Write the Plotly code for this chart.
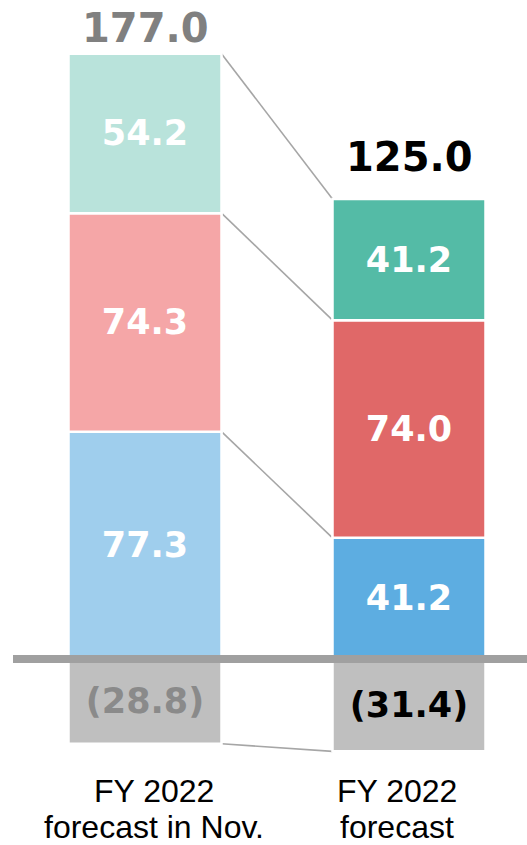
import plotly.graph_objects as go

# ---- data ----
categories = ["FY 2022<br>forecast in Nov.", "FY 2022<br>forecast"]
seg_negative = [-28.8, -31.4]
seg_blue = [77.3, 41.2]
seg_red = [74.3, 74.0]
seg_teal = [54.2, 41.2]
totals = [177.0, 125.0]

# ---- styles ----
W, H = 527, 845
zero_px = 659.0
px_per_unit = 2.941
centers_px = [145.0, 409.0]
bar_px = 153.0
spacing = centers_px[1] - centers_px[0]
bar_w = bar_px / spacing
xmin = -centers_px[0] / spacing
xmax = (W - centers_px[0]) / spacing
ymax = zero_px / px_per_unit
ymin = -(H - zero_px) / px_per_unit

xs = [0, 1]
num_font = "DejaVu Sans"
lbl_font = "Liberation Sans, Arial"


def fmt(v):
    return f"({abs(v):.1f})" if v < 0 else f"{v:.1f}"


fig = go.Figure()

series = [
    (seg_negative, ["#bfbfbf", "#bfbfbf"], ["#8a8a8a", "#000000"]),
    (seg_blue, ["#9fceed", "#5dade1"], ["white", "white"]),
    (seg_red, ["#f5a6a7", "#e06868"], ["white", "white"]),
    (seg_teal, ["#b9e3db", "#54bba6"], ["white", "white"]),
]
for vals, cols, tcols in series:
    fig.add_trace(go.Bar(
        x=xs, y=vals, width=bar_w,
        marker=dict(color=cols, line=dict(color="white", width=2.5)),
        text=[fmt(v) for v in vals], textposition="inside",
        insidetextanchor="middle",
        textfont=dict(family=num_font, size=35, color=tcols, weight="bold"),
        hoverinfo="skip", showlegend=False,
    ))

# connector lines between stacked boundaries
def cums(i):
    b = seg_blue[i]
    r = b + seg_red[i]
    t = r + seg_teal[i]
    return [t, r, b, seg_negative[i]]

left_c, right_c = cums(0), cums(1)
for yl, yr in zip(left_c, right_c):
    fig.add_shape(type="line", x0=xs[0] + bar_w / 2, x1=xs[1] - bar_w / 2,
                  y0=yl, y1=yr, line=dict(color="#a6a6a6", width=1.6),
                  layer="below")

# zero line
fig.add_shape(type="line", xref="x", yref="y", x0=(13 - centers_px[0]) / spacing,
              x1=xmax + 0.1, y0=0, y1=0,
              line=dict(color="#a0a0a0", width=8), layer="above")

# totals
tot_colors = ["#808080", "#000000"]
tot_shift = [1, 17]
for i, tv in enumerate(totals):
    top = seg_blue[i] + seg_red[i] + seg_teal[i]
    fig.add_annotation(x=xs[i], y=top, text=f"<b>{tv:.1f}</b>", showarrow=False,
                       yanchor="bottom", yshift=tot_shift[i],
                       font=dict(family=num_font, size=40, color=tot_colors[i]))

# category labels (one annotation per line to control line pitch)
line_centers_px = [791, 827]
label_xshift = [9, -12]
for i, c in enumerate(categories):
    for j, part in enumerate(c.split("<br>")):
        fig.add_annotation(x=xs[i], xref="x", y=1 - line_centers_px[j] / H, yref="paper",
                           text=part, showarrow=False, yanchor="middle",
                           xshift=label_xshift[i], borderpad=0,
                           font=dict(family=lbl_font, size=32, color="#000000"))

fig.update_layout(
    width=W, height=H, barmode="relative",
    margin=dict(l=0, r=0, t=0, b=0),
    paper_bgcolor="white", plot_bgcolor="white",
    xaxis=dict(range=[xmin, xmax], visible=False, fixedrange=True),
    yaxis=dict(range=[ymin, ymax], visible=False, fixedrange=True),
    uniformtext=dict(minsize=8, mode="show"),
)

fig.write_html("out.html", config={"displayModeBar": False})

# remove the browser's default page margin so the figure sits at (0, 0)
with open("out.html", "r", encoding="utf-8") as f:
    html = f.read()
html = html.replace("<head>", "<head><style>html,body{margin:0;padding:0;overflow:hidden;}</style>", 1)
with open("out.html", "w", encoding="utf-8") as f:
    f.write(html)
